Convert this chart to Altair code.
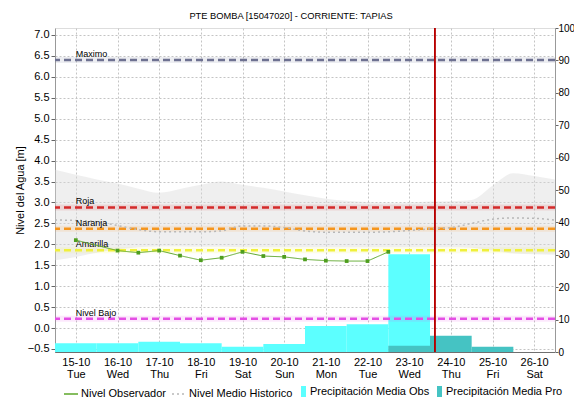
import altair as alt
import pandas as pd

# ---------------- data ----------------
day_ticks = ["2024-10-15", "2024-10-16", "2024-10-17", "2024-10-18", "2024-10-19", "2024-10-20",
             "2024-10-21", "2024-10-22", "2024-10-23", "2024-10-24", "2024-10-25", "2024-10-26"]

obs_time = ["2024-10-15T00:00:00Z", "2024-10-16T00:00:00Z", "2024-10-16T12:00:00Z",
            "2024-10-17T00:00:00Z", "2024-10-17T12:00:00Z", "2024-10-18T00:00:00Z",
            "2024-10-18T12:00:00Z", "2024-10-19T00:00:00Z", "2024-10-19T12:00:00Z",
            "2024-10-20T00:00:00Z", "2024-10-20T12:00:00Z", "2024-10-21T00:00:00Z",
            "2024-10-21T12:00:00Z", "2024-10-22T00:00:00Z", "2024-10-22T12:00:00Z"]
obs_level = [2.10, 1.85, 1.80, 1.85, 1.73, 1.62, 1.68, 1.82, 1.72, 1.70, 1.64, 1.61, 1.60, 1.60, 1.82]

hist_time = [f"2024-10-{d:02d}T{h}:00:00Z" for d in range(14, 27) for h in ("00", "12")][1:]
hist_max = [3.78, 3.66, 3.55, 3.45, 3.33, 3.23, 3.32, 3.42, 3.50, 3.42, 3.35, 3.26, 3.17,
            3.09, 3.04, 3.01, 2.99, 3.00, 3.02, 3.03, 3.06, 3.40, 3.70, 3.63, 3.55]
hist_min = [1.62, 1.70, 1.80, 1.88, 1.93, 1.95, 1.95, 1.94, 1.94, 1.93, 1.93, 1.93, 1.93,
            1.93, 1.93, 1.93, 1.93, 1.93, 1.93, 1.93, 1.92, 1.85, 1.78, 1.76, 1.75]
hist_mean = [2.58, 2.57, 2.54, 2.45, 2.35, 2.30, 2.30, 2.30, 2.32, 2.44, 2.44, 2.40, 2.32,
             2.29, 2.29, 2.29, 2.30, 2.33, 2.37, 2.40, 2.50, 2.60, 2.63, 2.62, 2.58]

precip_obs_day = ["2024-10-15", "2024-10-16", "2024-10-17", "2024-10-18", "2024-10-19",
                  "2024-10-20", "2024-10-21", "2024-10-22", "2024-10-23"]
precip_obs = [2.7, 2.7, 3.2, 2.7, 1.6, 2.5, 8.0, 8.6, 30.2]
precip_pro_day = ["2024-10-23", "2024-10-24", "2024-10-25"]
precip_pro = [1.9, 5.0, 1.6]

threshold_names = ["Maximo", "Roja", "Naranja", "Amarilla", "Nivel Bajo"]
threshold_levels = [6.40, 2.88, 2.37, 1.86, 0.22]
threshold_colors = ["#6E7191", "#D42A2A", "#F5961E", "#F0F03A", "#E44FE4"]

now_time = "2024-10-23T14:40:00Z"

left_ticks = [-0.5, 0.0, 0.5, 1.0, 1.5, 2.0, 2.5, 3.0, 3.5, 4.0, 4.5, 5.0, 5.5, 6.0, 6.5, 7.0]
right_ticks = [0, 10, 20, 30, 40, 50, 60, 70, 80, 90, 100]

series_names = ["Nivel Observador", "Nivel Medio Historico"]
precip_names = ["Precipitación Media Obs", "Precipitación Media Pro"]

# ---------------- frames ----------------
obs_df = pd.DataFrame({"t": obs_time, "v": obs_level, "serie": series_names[0]})
hist_df = pd.DataFrame({"t": hist_time, "hmax": hist_max, "hmin": hist_min,
                        "v": hist_mean, "serie": series_names[1]})


def bars(days, vals, name):
    d = pd.to_datetime(days)
    return pd.DataFrame({
        "start": (d - pd.Timedelta(hours=12)).strftime("%Y-%m-%dT%H:%M:%SZ"),
        "end": (d + pd.Timedelta(hours=12)).strftime("%Y-%m-%dT%H:%M:%SZ"),
        "v": vals, "tipo": name})


pobs_df = bars(precip_obs_day, precip_obs, precip_names[0])
ppro_df = bars(precip_pro_day, precip_pro, precip_names[1])
thr_df = pd.DataFrame({"name": threshold_names, "level": threshold_levels})


def dt(s):
    ts = pd.Timestamp(s)
    return alt.DateTime(year=ts.year, month=ts.month, date=ts.day,
                        hours=ts.hour, minutes=ts.minute, utc=True)


FONT = "Liberation Sans"
GRID = "#C4C4C4"

x_scale = alt.Scale(type="utc", domain=[dt("2024-10-14T12:00"), dt("2024-10-26T12:00")])
x_axis = alt.Axis(values=[dt(d) for d in day_ticks],
                  labelExpr="[utcFormat(datum.value, '%d-%m'), utcFormat(datum.value, '%a')]",
                  grid=True, gridDash=[2, 2], gridColor=GRID, ticks=False,
                  domainColor="#000000", domainDash=[1, 1], labelFontSize=11, labelColor="#000000",
                  labelPadding=4, labelLineHeight=12, title=None, labelFont=FONT)


def X(field):
    return alt.X(field, type="temporal", scale=x_scale, axis=x_axis)


y_left_scale = alt.Scale(domain=[-0.572, 7.167], nice=False, zero=False)
left_axis = alt.Axis(values=left_ticks, format=".1f", grid=True, gridDash=[2, 2], gridColor=GRID,
                     tickColor="#666666", tickSize=4, domainColor="#999999", labelFontSize=11,
                     labelColor="#000000", labelPadding=2, title="Nivel del Agua [m]",
                     titleFontWeight="normal", titleFontSize=11, titlePadding=2,
                     labelFont=FONT, titleFont=FONT, titleColor="#000000")
right_axis = alt.Axis(orient="right", values=right_ticks, grid=False, tickColor="#666666",
                      tickSize=3, domainColor="#999999", labelFontSize=10, labelColor="#000000",
                      labelPadding=0, title=None, labelFont=FONT)

# ---------------- left group A: historical band ----------------
band = alt.Chart(hist_df).mark_area(color="#D8D8D8", opacity=0.42, interpolate="monotone").encode(
    x=X("t"),
    y=alt.Y("hmax:Q", scale=y_left_scale, axis=left_axis),
    y2="hmin:Q",
)

# ---------------- right group: precipitation ----------------
LEG_Y = 358
fill_scale = alt.Scale(domain=precip_names, range=["#5CFFFF", "#45C3C3"])
fill_legend = alt.Legend(orient="none", legendX=243, legendY=LEG_Y, direction="horizontal",
                         title=None, symbolType="M-0.45,-1H0.45V1H-0.45Z", symbolSize=121,
                         symbolStrokeWidth=0, labelFontSize=11, labelFont=FONT, labelColor="#000000",
                         labelOffset=1, columnPadding=4)
y_right = alt.Y("v:Q", scale=alt.Scale(domain=[0, 100], nice=False, zero=True), axis=right_axis)

pobs = alt.Chart(pobs_df).mark_rect().encode(
    x=X("start"), x2="end:T", y=y_right, y2=alt.datum(0),
    fill=alt.Fill("tipo:N", scale=fill_scale, legend=fill_legend),
)
ppro = alt.Chart(ppro_df).mark_rect().encode(
    x=X("start"), x2="end:T", y=y_right, y2=alt.datum(0),
    fill=alt.Fill("tipo:N", scale=fill_scale, legend=fill_legend),
)
right_group = alt.layer(pobs, ppro)

# ---------------- left group B: thresholds and levels ----------------
def yB(f):
    return alt.Y(f, type="quantitative", scale=y_left_scale, axis=None)


thr_stroke = alt.Stroke("name:N", scale=alt.Scale(domain=threshold_names, range=threshold_colors),
                        legend=None)

glow = alt.Chart(thr_df).mark_rule(strokeWidth=6, opacity=0.13).encode(y=yB("level"), stroke=thr_stroke)
rules = alt.Chart(thr_df).mark_rule(strokeWidth=2.5, strokeDash=[7, 4]).encode(
    y=yB("level"), stroke=thr_stroke)
labels = alt.Chart(thr_df).mark_text(align="left", baseline="bottom", dy=-1, fontSize=9,
                                     font=FONT, color="#000000").encode(
    x=alt.X(datum=dt(day_ticks[0]), type="temporal", scale=x_scale, axis=x_axis),
    y=yB("level"), text="name:N")

line_legend = alt.Legend(orient="none", legendX=8, legendY=LEG_Y, direction="horizontal",
                         title=None, symbolType="stroke", symbolSize=196, symbolStrokeWidth=1.5,
                         labelFontSize=11, labelFont=FONT, labelColor="#000000", labelOffset=2,
                         columnPadding=3)
line_color = alt.Color("serie:N", scale=alt.Scale(domain=series_names, range=["#5DA82B", "#B8B8B8"]),
                       legend=line_legend)
line_dash = alt.StrokeDash("serie:N", scale=alt.Scale(domain=series_names, range=[[1, 0], [2, 3]]),
                           legend=line_legend)

hist_line = alt.Chart(hist_df).mark_line(strokeWidth=1.5, interpolate="monotone").encode(
    x=X("t"), y=yB("v"), color=line_color, strokeDash=line_dash)
obs_line = alt.Chart(obs_df).mark_line(strokeWidth=1).encode(
    x=X("t"), y=yB("v"), color=line_color, strokeDash=line_dash)
obs_pts = alt.Chart(obs_df).mark_point(shape="square", filled=True, size=14, opacity=1,
                                       color="#4E9E1E").encode(x=X("t"), y=yB("v"))
now_rule = alt.Chart(obs_df).mark_rule(color="#B80000", strokeWidth=1).encode(
    x=alt.X(datum=dt(now_time), type="temporal", scale=x_scale, axis=x_axis))

left_group = alt.layer(glow, rules, hist_line, labels, obs_line, obs_pts, now_rule)

chart = alt.layer(band, right_group, left_group).resolve_scale(y="independent").properties(
    width=500, height=324,
    title=alt.TitleParams("PTE BOMBA [15047020] - CORRIENTE: TAPIAS", fontSize=9.3,
                          fontWeight="normal", font=FONT, color="#000000", offset=2, dx=-14),
    autosize="none",
    padding={"left": 47, "top": 20, "right": 19, "bottom": 48},
).configure_view(stroke="#A0A0A0").configure(font=FONT)

chart.save("out.html", embed_options={"renderer": "svg", "actions": False})
